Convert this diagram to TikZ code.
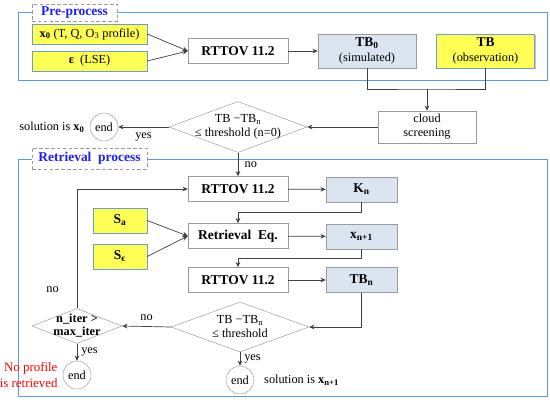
\documentclass[tikz,border=0pt]{standalone}
\usepackage{fontspec}
\setmainfont{Liberation Serif}
\usetikzlibrary{positioning,arrows.meta,shapes.geometric,shadows}

\definecolor{grpblue}{HTML}{5B9BD5}
\definecolor{lblblue}{HTML}{1F1FF0}
\definecolor{inyellow}{HTML}{FFFF55}
\definecolor{inborder}{HTML}{6E9CD2}
\definecolor{outblue}{HTML}{DAE5F1}
\definecolor{boxgray}{HTML}{9A9A9A}
\definecolor{linegray}{HTML}{404040}

\newcommand{\sbs}[1]{\textsubscript{#1}}

\begin{document}
\begin{tikzpicture}[
  x=0.03cm, y=-0.03cm,
  font=\fontsize{10.5}{12}\selectfont,
  >={Stealth[length=4.5pt,width=4pt]},
  proc/.style={draw=boxgray, fill=white, minimum width=3cm, minimum height=0.75cm,
               inner sep=1pt, font=\fontsize{11.5}{13}\selectfont\bfseries},
  outbox/.style={draw=boxgray, fill=outblue, minimum width=2.13cm, minimum height=0.75cm,
                 inner sep=1pt, font=\fontsize{11.5}{13}\selectfont\bfseries},
  inbox/.style={draw=inborder, fill=inyellow, minimum height=0.75cm, inner sep=1pt,
                drop shadow={shadow xshift=1.2pt, shadow yshift=-1.2pt, fill=black!45, opacity=0.5}},
  dec/.style={diamond, draw=boxgray, inner sep=0pt},
  term/.style={circle, draw=boxgray, minimum size=0.84cm, inner sep=0pt},
  grp/.style={draw=grpblue, thick},
  grplbl/.style={draw=boxgray, densely dashed, fill=white, text=lblblue, inner sep=0pt,
                 font=\fontsize{11.5}{13}\selectfont\bfseries},
  conn/.style={draw=linegray, semithick},
]
\useasboundingbox (0,0) rectangle (550,404);

% group frames
\draw[grp, fill=white, drop shadow={shadow xshift=1pt, shadow yshift=-1pt, fill=black!30, opacity=0.4}]
  (18,12) rectangle (547,80);
\draw[grp, fill=white, drop shadow={shadow xshift=1pt, shadow yshift=-1pt, fill=black!30, opacity=0.4}]
  (18,159) rectangle (547,396);
\node[grplbl, minimum width=2.55cm, minimum height=0.51cm] (lpre) at (74.5,12.5) {Pre-process};
\node[grplbl, minimum width=3.45cm, minimum height=0.63cm] (lret) at (89.5,158.5) {Retrieval\ \ process};

% pre-process
\node[inbox, minimum width=3.45cm, minimum height=0.6cm] (x0) at (89.5,34)
  {\textbf{x\sbs{0}} (T, Q, O\sbs{3} profile)};
\node[inbox, minimum width=3.45cm, minimum height=0.6cm] (eps) at (89.5,61)
  {\textbf{ε}\ \ (LSE)};
\node[proc] (rt0) at (238,51) {RTTOV 11.2};
\node[outbox, minimum width=2.94cm, minimum height=1.02cm, align=center] (tb0) at (367,51)
  {TB\sbs{0}\\\mdseries\fontsize{10.5}{12}\selectfont (simulated)};
\node[inbox, minimum width=2.94cm, minimum height=1.02cm, align=center,
      font=\fontsize{11.5}{13}\selectfont\bfseries] (tb) at (485.5,51)
  {TB\\\mdseries\fontsize{10.5}{12}\selectfont (observation)};
\node[draw=boxgray, minimum width=2.94cm, minimum height=0.96cm, align=center,
      inner sep=1pt] (cloud) at (427,127) {cloud\\screening};
\node[dec, minimum width=4.14cm, minimum height=1.53cm,
      label={[align=center]center:TB −TB\sbs{n}\\≤ threshold (n=0)}] (d0) at (238,127) {};
\node[term] (e0) at (104,127) {end};
\node[left=1pt of e0] (sol0) {solution is \textbf{x\sbs{0}}};

\coordinate (j0) at (427,89);
\draw[conn, ->] (x0.east) -- (rt0.west);
\draw[conn, ->] (eps.east) -- (rt0.west);
\draw[conn, ->] (rt0) -- (tb0);
\draw[conn] (tb0.south) |- (j0) -| (tb.south);
\draw[conn, ->] (j0) -- (cloud.north);
\draw[conn, ->] (cloud.west) -- (d0.east);
\draw[conn, ->] (d0.west) -- (e0.east) node[midway, below=1pt] {yes};

% retrieval process
\node[proc] (rt1) at (238,189) {RTTOV 11.2};
\node[outbox] (kn) at (361.5,189.5) {K\sbs{n}};
\node[inbox, minimum width=1.62cm, font=\fontsize{11.5}{13}\selectfont\bfseries] (sa) at (120,220.5) {S\sbs{a}};
\node[inbox, minimum width=1.62cm, font=\fontsize{11.5}{13}\selectfont\bfseries] (se) at (120,256.5) {S\sbs{ϵ}};
\node[proc] (req) at (238,236) {Retrieval\ \ Eq.};
\node[outbox] (xn) at (361.5,236.5) {x\sbs{n+1}};
\node[proc] (rt2) at (238,280) {RTTOV 11.2};
\node[outbox] (tbn) at (361.5,280) {TB\sbs{n}};
\node[dec, minimum width=4.14cm, minimum height=1.5cm,
      label={[align=center]center:TB −TB\sbs{n}\\≤ threshold}] (d1) at (240,327) {};
\node[term] (e1) at (240,380) {end};
\node[right=5pt of e1] (sol1) {solution is \textbf{x\sbs{n+1}}};
\node[dec, minimum width=2.7cm, minimum height=1.05cm,
      label={[align=center, font=\fontsize{10.5}{11}\selectfont\bfseries]center:n\_iter >\\max\_iter}] (d2) at (77,326) {};
\node[term] (e2) at (77,375) {end};
\node[left=1pt of e2, align=right, text=red, font=\fontsize{11}{13}\selectfont] (fail) {No profile\\is retrieved};

\draw[conn, ->] (d0.south) -- (rt1.north) node[midway, right=2pt] {no};
\draw[conn, ->] (rt1) -- (kn);
\draw[conn, ->] (kn.south) -- ++(0,10) -| (req.north);
\draw[conn, ->] (sa.east) -- (req.west);
\draw[conn, ->] (se.east) -- (req.west);
\draw[conn, ->] (req) -- (xn);
\draw[conn, ->] (xn.south) -- ++(0,9) -| (rt2.north);
\draw[conn, ->] (rt2) -- (tbn);
\draw[conn, ->] (tbn.south) |- (d1.east);
\draw[conn, ->] (d1.south) -- (e1.north) node[midway, right=0pt] {yes};
\draw[conn, ->] (d1.west) -- (d2.east) node[midway, above=1pt] {no};
\draw[conn, ->] (d2.north) |- (rt1.west) node[pos=0.08, left=12pt] {no};
\draw[conn, ->] (d2.south) -- (e2.north) node[midway, right=0pt] {yes};
\end{tikzpicture}
\end{document}
